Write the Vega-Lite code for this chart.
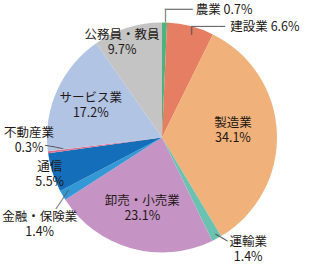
{
  "$schema": "https://vega.github.io/schema/vega-lite/v6.json",
  "autosize": {"type": "fit", "contains": "padding"},
  "width": 320,
  "height": 267,
  "padding": {"left": 9, "right": 5, "top": 13, "bottom": 5},
  "background": "#ffffff",
  "config": {
    "view": {"stroke": null},
    "text": {"font": "Noto Sans CJK JP", "fontSize": 12.5, "lineHeight": 15, "lineBreak": "\n", "align": "center", "baseline": "middle", "color": "#231815"}
  },
  "data": {
    "values": [
      {"industry": "農業", "share": 0.7, "order": 1},
      {"industry": "建設業", "share": 6.6, "order": 2},
      {"industry": "製造業", "share": 34.1, "order": 3},
      {"industry": "運輸業", "share": 1.4, "order": 4},
      {"industry": "卸売・小売業", "share": 23.1, "order": 5},
      {"industry": "金融・保険業", "share": 1.4, "order": 6},
      {"industry": "通信", "share": 5.5, "order": 7},
      {"industry": "不動産業", "share": 0.3, "order": 8},
      {"industry": "サービス業", "share": 17.2, "order": 9},
      {"industry": "公務員・教員", "share": 9.7, "order": 10}
    ]
  },
  "transform": [
    {"window": [{"op": "sum", "field": "share", "as": "cum"}], "sort": [{"field": "order", "order": "ascending"}], "frame": [null, 0]},
    {"calculate": "datum.cum - datum.share / 2", "as": "mid"},
    {"calculate": "format(datum.share, '.1f') + '%'", "as": "pct"},
    {"calculate": "datum.industry + '\\n' + datum.pct", "as": "lab2"},
    {"calculate": "datum.industry + ' ' + datum.pct", "as": "lab1"}
  ],
  "layer": [
    {
      "mark": {"type": "arc", "outerRadius": 115},
      "encoding": {
        "theta": {"field": "share", "type": "quantitative", "stack": true, "scale": {"domain": [0, 100]}},
        "order": {"field": "order", "type": "quantitative", "sort": "ascending"},
        "color": {
          "field": "industry", "type": "nominal", "legend": null,
          "scale": {
            "domain": ["農業", "建設業", "製造業", "運輸業", "卸売・小売業", "金融・保険業", "通信", "不動産業", "サービス業", "公務員・教員"],
            "range": ["#4db37e", "#e57e62", "#f0b27a", "#6cc2b0", "#c694c4", "#3498d6", "#146eb9", "#e0708a", "#b2c4e4", "#c4c4c4"]
          }
        }
      }
    },
    {
      "transform": [{"filter": "datum.industry === '製造業'"}],
      "mark": {"type": "text", "radius": 71, "dy": -12},
      "encoding": {"theta": {"field": "mid", "type": "quantitative", "stack": null, "scale": {"domain": [0, 100]}}, "text": {"field": "lab2"}}
    },
    {
      "transform": [{"filter": "datum.industry === '卸売・小売業'"}],
      "mark": {"type": "text", "radius": 73, "dy": -7},
      "encoding": {"theta": {"field": "mid", "type": "quantitative", "stack": null, "scale": {"domain": [0, 100]}}, "text": {"field": "lab2"}}
    },
    {
      "transform": [{"filter": "datum.industry === 'サービス業'"}],
      "mark": {"type": "text", "radius": 78, "dy": -7.5},
      "encoding": {"theta": {"field": "mid", "type": "quantitative", "stack": null, "scale": {"domain": [0, 100]}}, "text": {"field": "lab2"}}
    },
    {
      "transform": [{"filter": "datum.industry === '公務員・教員'"}],
      "mark": {"type": "text", "radius": 103, "dx": -9, "dy": -4},
      "encoding": {"theta": {"field": "mid", "type": "quantitative", "stack": null, "scale": {"domain": [0, 100]}}, "text": {"field": "lab2"}}
    },
    {
      "transform": [{"filter": "datum.industry === '通信'"}],
      "mark": {"type": "text", "radius": 118, "dy": -6.5},
      "encoding": {"theta": {"field": "mid", "type": "quantitative", "stack": null, "scale": {"domain": [0, 100]}}, "text": {"field": "lab2"}}
    },
    {
      "transform": [{"filter": "datum.industry === '不動産業'"}],
      "mark": {"type": "text", "radius": 132, "dx": -2, "dy": -21},
      "encoding": {"theta": {"field": "mid", "type": "quantitative", "stack": null, "scale": {"domain": [0, 100]}}, "text": {"field": "lab2"}}
    },
    {
      "transform": [{"filter": "datum.industry === '金融・保険業'"}],
      "mark": {"type": "text", "radius": 148.5, "dx": 6, "dy": 4.5},
      "encoding": {"theta": {"field": "mid", "type": "quantitative", "stack": null, "scale": {"domain": [0, 100]}}, "text": {"field": "lab2"}}
    },
    {
      "transform": [{"filter": "datum.industry === '運輸業'"}],
      "mark": {"type": "text", "radius": 139, "dx": 20, "dy": -18},
      "encoding": {"theta": {"field": "mid", "type": "quantitative", "stack": null, "scale": {"domain": [0, 100]}}, "text": {"field": "lab2"}}
    },
    {
      "transform": [{"filter": "datum.industry === '農業'"}],
      "mark": {"type": "text", "radius": 127.5, "dx": 31, "align": "left"},
      "encoding": {"theta": {"field": "mid", "type": "quantitative", "stack": null, "scale": {"domain": [0, 100]}}, "text": {"field": "lab1"}}
    },
    {
      "transform": [{"filter": "datum.industry === '建設業'"}],
      "mark": {"type": "text", "radius": 114, "dx": 40, "align": "left"},
      "encoding": {"theta": {"field": "mid", "type": "quantitative", "stack": null, "scale": {"domain": [0, 100]}}, "text": {"field": "lab1"}}
    },
    {
      "transform": [{"filter": "datum.industry === '農業'"}],
      "mark": {"type": "text", "radius": 121.5, "angle": 90, "font": "DejaVu Sans", "fontSize": 10, "color": "#555555"},
      "encoding": {"theta": {"field": "mid", "type": "quantitative", "stack": null, "scale": {"domain": [0, 100]}}, "text": {"value": "──"}}
    },
    {
      "transform": [{"filter": "datum.industry === '農業'"}],
      "mark": {"type": "text", "radius": 127.5, "dx": 14, "font": "DejaVu Sans", "fontSize": 11.6, "color": "#555555"},
      "encoding": {"theta": {"field": "mid", "type": "quantitative", "stack": null, "scale": {"domain": [0, 100]}}, "text": {"value": "────"}}
    },
    {
      "transform": [{"filter": "datum.industry === '建設業'"}],
      "mark": {"type": "text", "radius": 110, "angle": 90, "dy": -1.6, "font": "DejaVu Sans", "fontSize": 13, "color": "#555555"},
      "encoding": {"theta": {"field": "mid", "type": "quantitative", "stack": null, "scale": {"domain": [0, 100]}}, "text": {"value": "─"}}
    },
    {
      "transform": [{"filter": "datum.industry === '建設業'"}],
      "mark": {"type": "text", "radius": 114, "dx": 17.6, "font": "DejaVu Sans", "fontSize": 11.3, "color": "#555555"},
      "encoding": {"theta": {"field": "mid", "type": "quantitative", "stack": null, "scale": {"domain": [0, 100]}}, "text": {"value": "─────"}}
    },
    {
      "transform": [{"filter": "datum.industry === '不動産業'"}],
      "mark": {"type": "text", "radius": 107.8, "angle": 9.5, "dx": -1.7, "dy": -3.7, "font": "DejaVu Sans", "fontSize": 10.2, "color": "#555555"},
      "encoding": {"theta": {"field": "mid", "type": "quantitative", "stack": null, "scale": {"domain": [0, 100]}}, "text": {"value": "───"}}
    },
    {
      "transform": [{"filter": "datum.industry === '金融・保険業'"}],
      "mark": {"type": "text", "radius": 117.2, "angle": -55.6, "dx": -1.5, "dy": 3.1, "font": "DejaVu Sans", "fontSize": 9.5, "color": "#555555"},
      "encoding": {"theta": {"field": "mid", "type": "quantitative", "stack": null, "scale": {"domain": [0, 100]}}, "text": {"value": "────"}}
    },
    {
      "transform": [{"filter": "datum.industry === '運輸業'"}],
      "mark": {"type": "text", "radius": 116.9, "angle": 30.3, "dx": 1.9, "dy": -3.2, "font": "DejaVu Sans", "fontSize": 11.5, "color": "#555555"},
      "encoding": {"theta": {"field": "mid", "type": "quantitative", "stack": null, "scale": {"domain": [0, 100]}}, "text": {"value": "──"}}
    }
  ]
}
